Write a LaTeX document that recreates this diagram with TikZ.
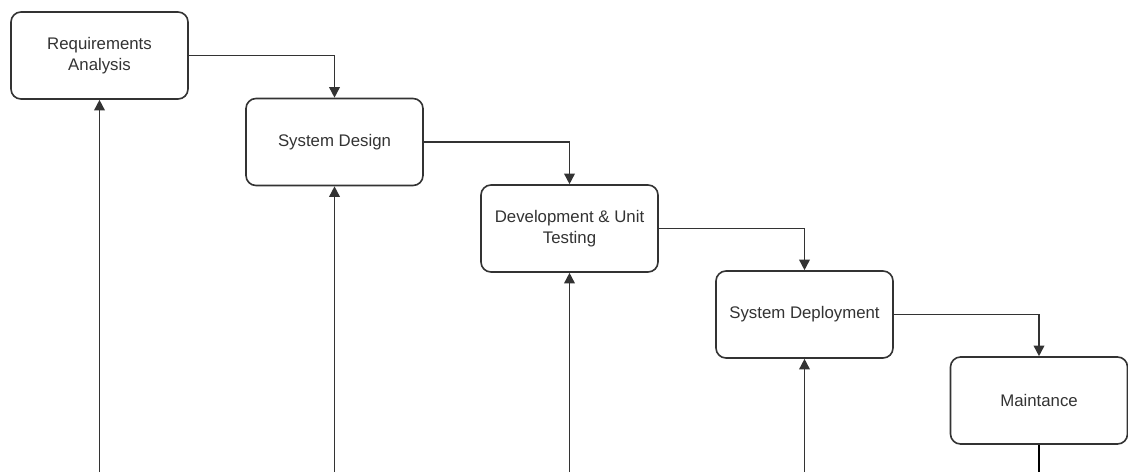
\documentclass[tikz,border=0pt]{standalone}
\usepackage{fontspec}
\setmainfont{Liberation Sans}
\usetikzlibrary{arrows.meta}
\definecolor{edge}{HTML}{333333}
\definecolor{txt}{HTML}{333333}
\tikzset{
  stepbox/.style={draw=edge, line width=1.2pt, rounded corners=7.5pt, fill=white,
    minimum width=132.75pt, minimum height=65.25pt, align=center,
    font=\fontsize{12.6pt}{16pt}\selectfont, text=txt, inner sep=0pt},
  flow/.style={draw=edge, line width=1.2pt, -{Triangle[length=8pt,width=8pt]}},
  feed/.style={draw=edge, line width=1.2pt},
}
\begin{document}
\begin{tikzpicture}[x=0.75pt,y=-0.75pt]
\useasboundingbox (0,0) rectangle (1128,472);
\node[stepbox] (ra) at (99.5,55.5) {Requirements\\Analysis};
\node[stepbox] (sd) at (334.5,142) {System Design};
\node[stepbox] (dev) at (569.5,228.5) {Development \& Unit\\Testing};
\node[stepbox] (dep) at (804.5,314.5) {System Deployment};
\node[stepbox] (mt) at (1039,400.5) {Maintance};
\draw[flow] (ra.east) -| (sd.north);
\draw[flow] (sd.east) -| (dev.north);
\draw[flow] (dev.east) -| (dep.north);
\draw[flow] (dep.east) -| (mt.north);
\coordinate (b1) at (99.5,472);
\coordinate (b2) at (334.5,472);
\coordinate (b3) at (569.5,472);
\coordinate (b4) at (804.5,472);
\coordinate (b5) at (1039,472);
\draw[flow] (b1) -- (ra.south);
\draw[flow] (b2) -- (sd.south);
\draw[flow] (b3) -- (dev.south);
\draw[flow] (b4) -- (dep.south);
\draw[feed, draw=black, line width=1.5pt] (mt.south) -- (b5);
\end{tikzpicture}
\end{document}
